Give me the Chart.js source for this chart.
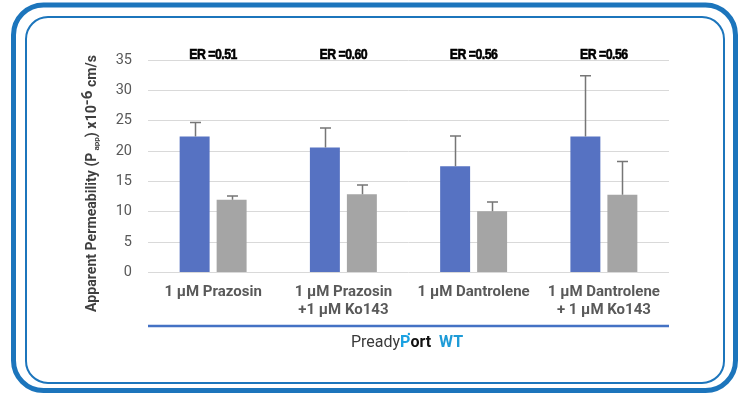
<!DOCTYPE html>
<html>
<head>
<meta charset="utf-8">
<script src="https://cdn.jsdelivr.net/npm/chart.js@4/dist/chart.umd.min.js"></script>
<style>
  html, body { margin: 0; padding: 0; background: #ffffff; }
  #wrap { width: 746px; height: 396px; }
</style>
</head>
<body>
<div id="wrap"><canvas id="c" width="746" height="396"></canvas></div>
<script>
// Conditions tested
const categories = [
  ['1 µM Prazosin'],
  ['1 µM Prazosin', '+1 µM Ko143'],
  ['1 µM Dantrolene'],
  ['1 µM Dantrolene', '+ 1 µM Ko143']
];
// Permeability (x10^-6 cm/s), mean and upper error per condition
const seriesA = [22.4, 20.6, 17.5, 22.4];
const errorA  = [2.3, 3.2, 5.0, 10.0];
const seriesB = [12.0, 12.9, 10.1, 12.8];
const errorB  = [0.6, 1.5, 1.5, 5.5];
// Efflux ratio shown above each condition
const efflux = ['ER =0.51', 'ER =0.60', 'ER =0.56', 'ER =0.56'];
const yTicks = [0, 5, 10, 15, 20, 25, 30, 35];

const FRAME = '#1c75bc';

// Rounded double frame behind the chart
const framePlugin = {
  id: 'frame',
  beforeDraw(chart) {
    const ctx = chart.ctx;
    ctx.save();
    ctx.fillStyle = '#ffffff';
    ctx.fillRect(0, 0, chart.width, chart.height);
    ctx.strokeStyle = FRAME;
    ctx.lineWidth = 5;
    ctx.beginPath();
    ctx.roundRect(13.5, 5, 722, 385.5, 30);
    ctx.stroke();
    ctx.lineWidth = 2;
    ctx.beginPath();
    ctx.roundRect(26, 17, 698, 366, 22);
    ctx.stroke();
    ctx.restore();
  }
};

// Upper error bars with caps
const errorBarPlugin = {
  id: 'errorBars',
  afterDatasetsDraw(chart) {
    const ctx = chart.ctx;
    const yScale = chart.scales.y;
    ctx.save();
    ctx.strokeStyle = '#767676';
    ctx.lineWidth = 1.5;
    chart.data.datasets.forEach((ds, i) => {
      const meta = chart.getDatasetMeta(i);
      meta.data.forEach((bar, j) => {
        const top = yScale.getPixelForValue(ds.data[j] + ds.errors[j]);
        const x = Math.round(bar.x) + 0.5;
        ctx.beginPath();
        ctx.moveTo(x, bar.y);
        ctx.lineTo(x, top);
        ctx.moveTo(x - 5.5, top);
        ctx.lineTo(x + 5.5, top);
        ctx.stroke();
      });
    });
    ctx.restore();
  }
};

// Axis title, ratio labels, baseline rule and footer text
const annotationPlugin = {
  id: 'annotations',
  afterDraw(chart) {
    const ctx = chart.ctx;
    const area = chart.chartArea;
    const xScale = chart.scales.x;
    ctx.save();

    // efflux ratio labels (condensed, heavy)
    ctx.fillStyle = '#000000';
    ctx.strokeStyle = '#000000';
    ctx.lineWidth = 0.6;
    ctx.font = 'bold 15px "Liberation Sans", Arial, sans-serif';
    ctx.textBaseline = 'alphabetic';
    ctx.textAlign = 'center';
    ctx.letterSpacing = '-0.6px';
    efflux.forEach((t, i) => {
      const cx = xScale.getPixelForValue(i);
      ctx.save();
      ctx.translate(cx, 59);
      ctx.scale(0.82, 1);
      ctx.fillText(t, 0, 0);
      ctx.strokeText(t, 0, 0);
      ctx.restore();
    });
    ctx.letterSpacing = '0px';

    // rotated y-axis title with subscript and superscript
    const parts = [
      { t: 'Apparent Permeability (P', f: 'bold 14px Roboto, sans-serif', dy: 0 },
      { t: ' app', f: 'bold 8px Roboto, sans-serif', dy: 3 },
      { t: ') x10', f: 'bold 14px Roboto, sans-serif', dy: 0 },
      { t: '-6', f: 'bold 15px Roboto, sans-serif', dy: -4 },
      { t: ' cm/s', f: 'bold 14px Roboto, sans-serif', dy: 0 }
    ];
    let total = 0;
    parts.forEach(p => { ctx.font = p.f; p.w = ctx.measureText(p.t).width; total += p.w; });
    const target = 257;
    ctx.save();
    ctx.translate(96, 183.5);
    ctx.rotate(-Math.PI / 2);
    ctx.scale(target / total, 1);
    ctx.fillStyle = '#3f3f3f';
    ctx.textAlign = 'left';
    let x = -total / 2;
    parts.forEach(p => {
      ctx.font = p.f;
      ctx.fillText(p.t, x, p.dy);
      x += p.w;
    });
    ctx.restore();

    // rule under the category labels
    ctx.strokeStyle = '#4472c4';
    ctx.lineWidth = 2.5;
    ctx.beginPath();
    ctx.moveTo(area.left, 326);
    ctx.lineTo(area.right, 326);
    ctx.stroke();

    // footer: PreadyPort WT
    const segs = [
      { t: 'Pready', f: '16px Roboto, sans-serif', c: '#3a3a3a' },
      { t: 'P', f: 'bold 16px Roboto, sans-serif', c: '#1ba1e2' },
      { t: 'ort', f: 'bold 16px Roboto, sans-serif', c: '#111111' },
      { t: '  WT', f: 'bold 16px Roboto, sans-serif', c: '#1e9bd7' }
    ];
    let fw = 0;
    segs.forEach(s => { ctx.font = s.f; s.w = ctx.measureText(s.t).width; fw += s.w; });
    let fx = 407 - fw / 2;
    const base = 347;
    ctx.textAlign = 'left';
    segs.forEach((s, i) => {
      ctx.font = s.f;
      ctx.fillStyle = s.c;
      ctx.fillText(s.t, fx, base);
      if (i === 1) {
        ctx.beginPath();
        ctx.arc(fx + s.w - 1.5, base - 13, 1.2, 0, Math.PI * 2);
        ctx.fill();
      }
      fx += s.w;
    });

    ctx.restore();
  }
};

new Chart(document.getElementById('c'), {
  type: 'bar',
  data: {
    labels: categories,
    datasets: [
      {
        label: 'A→B',
        data: seriesA,
        errors: errorA,
        backgroundColor: '#5672c2',
        categoryPercentage: 0.568,
        barPercentage: 0.81
      },
      {
        label: 'B→A',
        data: seriesB,
        errors: errorB,
        backgroundColor: '#a5a5a5',
        categoryPercentage: 0.568,
        barPercentage: 0.81
      }
    ]
  },
  options: {
    responsive: false,
    animation: false,
    devicePixelRatio: 1,
    layout: { padding: { top: 60, right: 77, left: 0, bottom: 0 } },
    plugins: {
      legend: { display: false },
      tooltip: { enabled: false }
    },
    scales: {
      x: {
        grid: { display: false, drawTicks: false },
        border: { display: false },
        ticks: {
          color: '#595959',
          font: { family: 'Roboto, sans-serif', size: 15, weight: 'bold', lineHeight: 1.17 },
          padding: 11,
          maxRotation: 0,
          autoSkip: false
        },
        afterFit(scale) { scale.height = 123.5; }
      },
      y: {
        min: 0,
        max: 35,
        afterBuildTicks(scale) { scale.ticks = yTicks.map(v => ({ value: v })); },
        grid: { color: '#d9d9d9', lineWidth: 1, drawTicks: false },
        border: { display: false },
        ticks: {
          color: '#595959',
          font: { family: 'Roboto, sans-serif', size: 14.5 },
          padding: 16
        },
        afterFit(scale) { scale.width = 148; }
      }
    }
  },
  plugins: [framePlugin, errorBarPlugin, annotationPlugin]
});
</script>
</body>
</html>
